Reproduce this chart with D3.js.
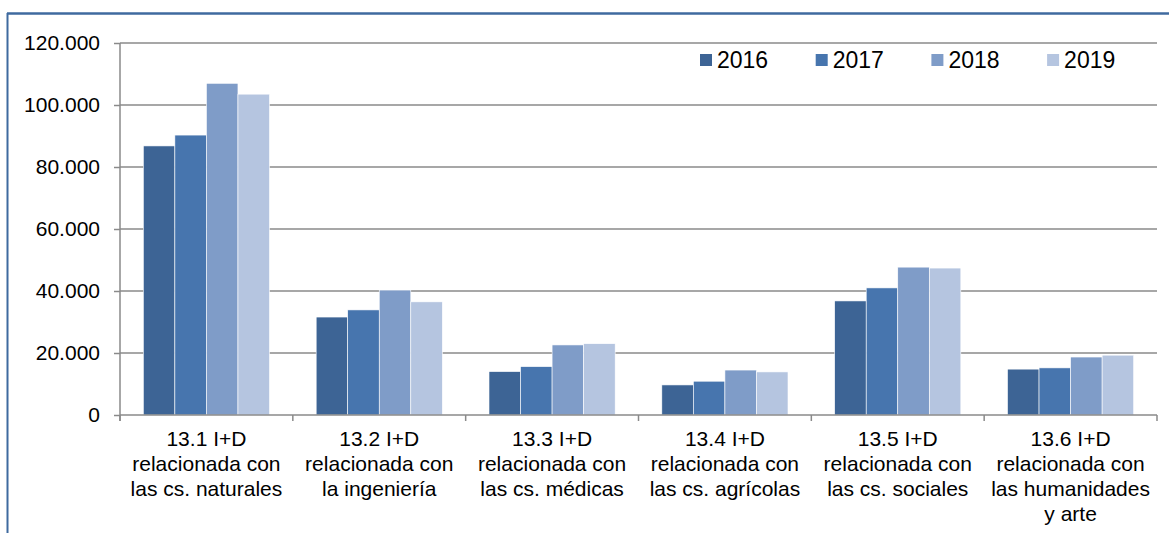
<!DOCTYPE html>
<html>
<head>
<meta charset="utf-8">
<script src="https://cdn.jsdelivr.net/npm/d3@7"></script>
<style>
  body { margin: 0; background: #fff; }
  svg text { font-family: "Liberation Sans", Arial, sans-serif; fill: #000; }
</style>
</head>
<body>
<script>
(function() {

	// data
	var categories = [
		["13.1 I+D", "relacionada con", "las cs. naturales"],
		["13.2 I+D", "relacionada con", "la ingeniería"],
		["13.3 I+D", "relacionada con", "las cs. médicas"],
		["13.4 I+D", "relacionada con", "las cs. agrícolas"],
		["13.5 I+D", "relacionada con", "las cs. sociales"],
		["13.6 I+D", "relacionada con", "las humanidades", "y arte"]
	];
	var years = ["2016", "2017", "2018", "2019"];
	var values2016 = [86800, 31600, 14000, 9700, 36800, 14800];
	var values2017 = [90300, 33900, 15600, 10900, 41000, 15200];
	var values2018 = [107000, 40300, 22600, 14500, 47700, 18700];
	var values2019 = [103500, 36500, 23000, 13900, 47400, 19300];
	var yTicks = [0, 20000, 40000, 60000, 80000, 100000, 120000];

	var series = [values2016, values2017, values2018, values2019];
	var colors = ["#3d6495", "#4775ae", "#7f9cc8", "#b5c5e0"];

	var W = 1169, H = 533;
	var plot = {left: 120, right: 1157, top: 43, bottom: 415};

	var svg = d3.select("body").append("svg")
		.attr("width", W)
		.attr("height", H);

	// frame
	svg.append("line")
		.attr("x1", 7).attr("x2", W)
		.attr("y1", 13.5).attr("y2", 13.5)
		.attr("stroke", "#3f6a9f")
		.attr("stroke-width", 2.5);
	svg.append("line")
		.attr("x1", 7.5).attr("x2", 7.5)
		.attr("y1", 13).attr("y2", H)
		.attr("stroke", "#3f6a9f")
		.attr("stroke-width", 2);

	var x0 = d3.scaleBand()
		.domain(d3.range(categories.length))
		.range([plot.left, plot.right])
		.padding(0);

	var x1 = d3.scaleBand()
		.domain(years)
		.range([x0.bandwidth() * 0.135, x0.bandwidth() * 0.865])
		.padding(0);

	var y = d3.scaleLinear()
		.domain([0, 120000])
		.range([plot.bottom, plot.top]);

	var fmt = function(v) {
		return d3.format(",")(v).replace(/,/g, ".");
	};

	// gridlines
	svg.append("g").selectAll("line")
		.data(yTicks.filter(d => d > 0))
		.enter().append("line")
			.attr("x1", plot.left).attr("x2", plot.right)
			.attr("y1", d => y(d)).attr("y2", d => y(d))
			.attr("stroke", "#8a8a8a")
			.attr("stroke-width", 1.5);

	// y axis
	var yAxis = svg.append("g")
		.attr("transform", "translate(" + plot.left + ",0)")
		.call(d3.axisLeft(y).tickValues(yTicks).tickFormat(fmt).tickSize(6).tickPadding(14));
	yAxis.select(".domain").remove();
	yAxis.selectAll(".tick line").attr("stroke", "#8a8a8a").attr("stroke-width", 1.5);
	yAxis.selectAll(".tick text")
		.style("font-size", "21px")
		.style("font-family", "'Liberation Sans', Arial, sans-serif")
		.attr("fill", "#000");
	svg.append("line")
		.attr("x1", plot.left).attr("x2", plot.left)
		.attr("y1", plot.top).attr("y2", plot.bottom + 6)
		.attr("stroke", "#8a8a8a")
		.attr("stroke-width", 1.5);

	// bars
	var groups = svg.append("g").selectAll("g")
		.data(categories)
		.enter().append("g")
			.attr("transform", (d, i) => "translate(" + x0(i) + ",0)");

	groups.selectAll("rect")
		.data((d, i) => series.map((s, k) => ({year: years[k], value: s[i], k: k})))
		.enter().append("rect")
			.attr("x", d => x1(d.year))
			.attr("y", d => y(d.value))
			.attr("width", x1.bandwidth())
			.attr("height", d => plot.bottom - y(d.value))
			.attr("fill", d => colors[d.k])
			.attr("stroke", "#ffffff")
			.attr("stroke-width", 0.6);

	// x axis
	svg.append("line")
		.attr("x1", plot.left).attr("x2", plot.right)
		.attr("y1", plot.bottom).attr("y2", plot.bottom)
		.attr("stroke", "#8a8a8a")
		.attr("stroke-width", 1.5);
	svg.append("g").selectAll("line")
		.data(d3.range(categories.length + 1))
		.enter().append("line")
			.attr("x1", i => plot.left + i * x0.bandwidth())
			.attr("x2", i => plot.left + i * x0.bandwidth())
			.attr("y1", plot.bottom).attr("y2", plot.bottom + 6)
			.attr("stroke", "#8a8a8a")
			.attr("stroke-width", 1.5);

	var labels = svg.append("g").selectAll("text")
		.data(categories)
		.enter().append("text")
			.attr("text-anchor", "middle")
			.style("font-size", "21px")
			.attr("transform", (d, i) => "translate(" + (x0(i) + x0.bandwidth() / 2) + ",446)");
	labels.selectAll("tspan")
		.data(d => d)
		.enter().append("tspan")
			.attr("x", 0)
			.attr("y", (d, i) => i * 25)
			.text(d => d);

	// legend
	var legend = svg.append("g").selectAll("g")
		.data(years)
		.enter().append("g")
			.attr("transform", (d, i) => "translate(" + (700 + i * 115.7) + ",54)");
	legend.append("rect")
		.attr("width", 12).attr("height", 12)
		.attr("fill", (d, i) => colors[i]);
	legend.append("text")
		.attr("x", 17)
		.attr("y", 14)
		.style("font-size", "23px")
		.text(d => d);

}) ();
</script>
</body>
</html>
